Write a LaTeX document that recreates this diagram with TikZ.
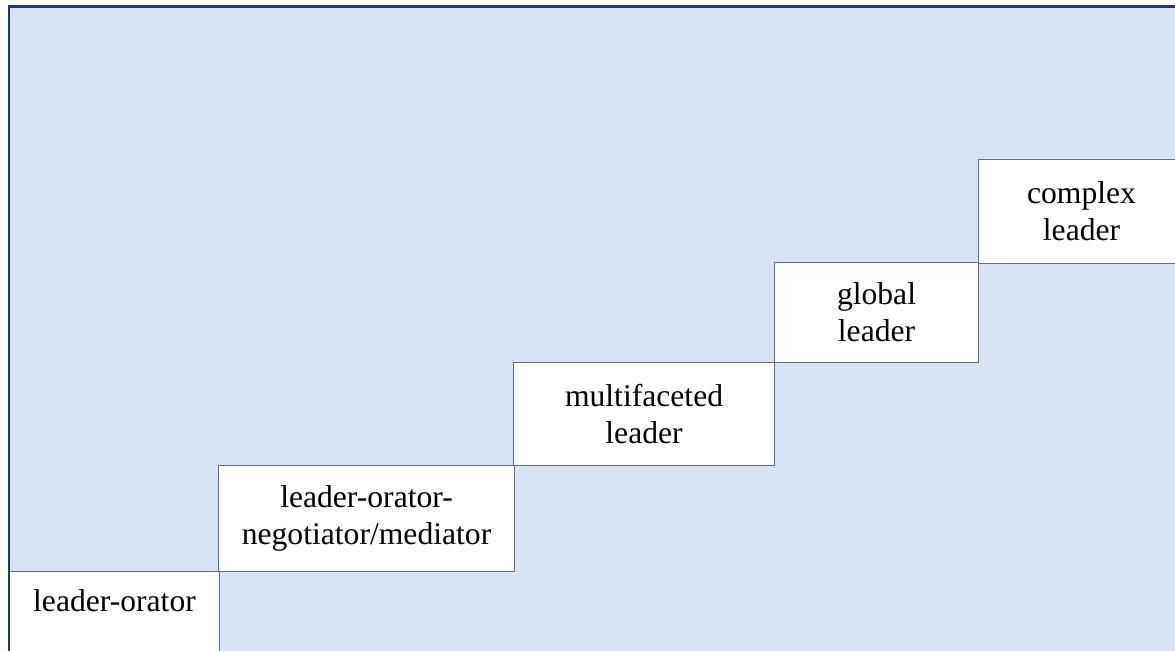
\documentclass[tikz,border=0pt]{standalone}
\usepackage{fontspec}
\setmainfont{Liberation Serif}
\definecolor{stairbg}{HTML}{DAE3F3}
\definecolor{framenavy}{HTML}{203864}
\definecolor{boxline}{HTML}{5F6E84}
\tikzset{stairbox/.style={draw=boxline, line width=0.6pt, fill=white, anchor=north west,
    align=center, inner sep=0pt, font=\fontsize{18}{21}\selectfont}}

\begin{document}
\begin{tikzpicture}[x=0.02cm, y=-0.02cm]
                \useasboundingbox (0,0) rectangle (1175,651);
                \clip (0,0) rectangle (1175,651);

                % background
                \fill[stairbg] (9,7) rectangle (1190,670);

                % first step runs past the bottom edge
                \node (b1) [stairbox, minimum width=210*0.02cm, minimum height=100*0.02cm,
                    text depth=0.84cm] at (9,571) {leader-orator};

                \foreach \a/\x/\y/\w/\h/\t in {2/218/465/296/106/{leader-orator-\\negotiator/mediator},
                    3/513/362/261/103/{multifaceted\\leader},
                    4/774/262/204/100/{global\\leader},
                    5/978/159/206/104/{complex\\leader}}
                {
                    \node (b\a) [stairbox, minimum width=\w*0.02cm, minimum height=\h*0.02cm] at (\x,\y) {\t};
                }

                % frame on top
                \draw[framenavy, line width=1.7pt] (9,670) -- (9,7) -- (1190,7);
\end{tikzpicture}
\end{document}
